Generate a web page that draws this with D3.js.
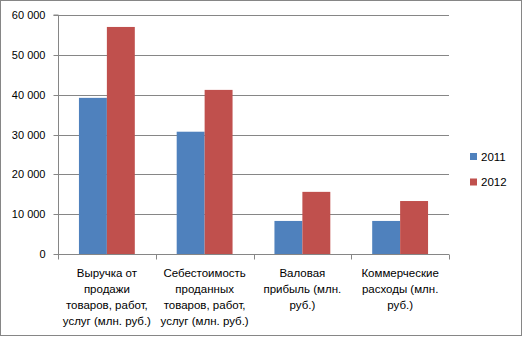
<!DOCTYPE html>
<html><head><meta charset="utf-8">
<script src="https://cdn.jsdelivr.net/npm/d3@7"></script>
<style>body{margin:0;background:#fff}svg{display:block}text{font-family:"Liberation Sans",Arial,sans-serif}</style>
</head><body><svg id="c" width="522" height="337"></svg>
<script>
const categories = [
  ["Выручка от","продажи","товаров, работ,","услуг (млн. руб.)"],
  ["Себестоимость","проданных","товаров, работ,","услуг (млн. руб.)"],
  ["Валовая","прибыль (млн.","руб.)"],
  ["Коммерческие","расходы (млн.","руб.)"]
];
const seriesNames = ["2011","2012"];
const values2011 = [39200, 30700, 8300, 8300];
const values2012 = [57000, 41200, 15600, 13300];
const yTicks = [0,10000,20000,30000,40000,50000,60000];
const colors = ["#4F81BD","#C0504D"];

const svg = d3.select("#c");
svg.append("rect").attr("x",0.5).attr("y",0.5).attr("width",521).attr("height",335)
  .attr("fill","#fff").attr("stroke","#868686");

const L=58, R=449, T=15, B=254;
const x = d3.scaleBand().domain(d3.range(categories.length)).range([L,R]).padding(0);
const y = d3.scaleLinear().domain([0,60000]).range([B,T]);
const x1 = d3.scaleBand().domain([0,1]).range([0,x.bandwidth()]).paddingOuter(0.75).paddingInner(0);
const fmt = v => d3.format(",")(v).replace(/,/g," ");

// gridlines
svg.append("g").selectAll("line").data(yTicks.filter(d=>d>0)).join("line")
  .attr("x1",L).attr("x2",R).attr("y1",d=>Math.round(y(d))+0.5).attr("y2",d=>Math.round(y(d))+0.5)
  .attr("stroke","#868686");

// bars
const series=[values2011,values2012];
series.forEach((vals,si)=>{
  svg.append("g").selectAll("rect").data(vals).join("rect")
    .attr("x",(d,i)=>x(i)+x1(si)).attr("width",x1.bandwidth())
    .attr("y",d=>y(d)).attr("height",d=>B-y(d)).attr("fill",colors[si]);
});

// y axis
const ya = svg.append("g").attr("transform",`translate(${L+0.5},0)`)
  .call(d3.axisLeft(y).tickValues(yTicks).tickFormat(fmt).tickSize(5).tickPadding(8));
ya.select(".domain").attr("stroke","#868686").attr("d",`M-5,${T}H0V${B}`);
ya.selectAll(".tick line").attr("stroke","#868686");
ya.selectAll(".tick text").attr("font-size",11).attr("fill","#000");
ya.selectAll(".tick").attr("transform",d=>`translate(0,${Math.round(y(d))+0.5})`);

// x axis
const xa = svg.append("g").attr("transform",`translate(0,${B+0.5})`);
xa.append("line").attr("x1",L).attr("x2",R).attr("stroke","#868686");
xa.selectAll(".tk").data(d3.range(categories.length+1)).join("line")
  .attr("x1",d=>Math.round(L+d*x.bandwidth())+0.5).attr("x2",d=>Math.round(L+d*x.bandwidth())+0.5)
  .attr("y1",0).attr("y2",5).attr("stroke","#868686");
categories.forEach((lines,i)=>{
  const t = svg.append("text").attr("text-anchor","middle").attr("font-size",11.5).attr("fill","#000");
  lines.forEach((ln,j)=>t.append("tspan").attr("x",x(i)+x.bandwidth()/2).attr("y",277+j*16).text(ln));
});

// legend
seriesNames.forEach((n,i)=>{
  const g=svg.append("g").attr("transform",`translate(470,${153+i*25.5})`);
  g.append("rect").attr("width",7).attr("height",7).attr("fill",colors[i]);
  g.append("text").attr("x",11).attr("y",7.5).attr("font-size",11.5).attr("fill","#000").text(n);
});
</script></body></html>
